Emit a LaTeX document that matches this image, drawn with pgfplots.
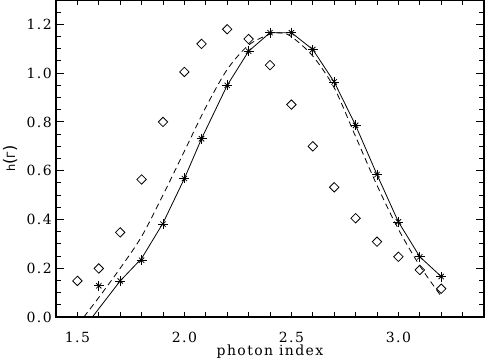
\documentclass[border=0pt]{standalone}
\usepackage{fontspec}
\setmainfont{DejaVu Serif}[LetterSpace=10]
\setsansfont{DejaVu Sans}
\usepackage{pgfplots}
\pgfplotsset{compat=1.18}

\begin{document}
\begin{tikzpicture}
% fix the page to the reference frame (1px = 0.75pt)
\useasboundingbox (-42pt,-33pt) rectangle (321.75pt,237.75pt);
\begin{axis}[
    at={(0,0)}, anchor=south west,
    scale only axis,
    width=321pt, height=237.75pt,
    xmin=1.4, xmax=3.4,
    ymin=0, ymax=1.3,
    xtick={1.5,2.0,2.5,3.0},
    minor xtick={1.4,1.5,...,3.4},
    major x tick style={draw=none},
    ytick={0,0.2,...,1.2},
    minor ytick={0,0.05,...,1.3},
    tick align=inside,
    major tick length=6pt,
    minor tick length=3.75pt,
    every tick/.style={black, line width=0.7pt},
    axis line style={line width=1.1pt},
    xticklabel style={anchor=center, yshift=-15.5pt},
    yticklabel style={anchor=east, inner sep=0pt, xshift=-3pt},
    tick label style={font=\fontsize{10.5}{12}\selectfont},
    /pgf/number format/assume math mode=true,
    xticklabel={\pgfmathprintnumber[fixed,fixed zerofill,precision=1]{\tick}},
    yticklabel={\pgfmathprintnumber[fixed,fixed zerofill,precision=1]{\tick}},
    xlabel={photon index},
    xlabel style={at={(axis description cs:0.5,0)}, anchor=center, yshift=-26pt,
                  font=\fontsize{10.5}{12}\selectfont},
    ylabel={h{\fontsize{12}{12}\selectfont(}Γ{\fontsize{12}{12}\selectfont)}},
    ylabel style={at={(axis description cs:-0.1075,0.5)}, anchor=center,
                  font=\sffamily\fontsize{8.5}{10}\selectfont},
]
% model curve, solid
\addplot[black, line width=0.6pt] coordinates {
 (1.57,0) (1.7,0.148) (1.8,0.24) (1.9,0.385) (2.0,0.568) (2.08,0.731)
 (2.2,0.95) (2.3,1.09) (2.4,1.166) (2.5,1.166) (2.6,1.097) (2.7,0.964)
 (2.8,0.786) (2.9,0.584) (3.0,0.39) (3.1,0.247) (3.2,0.166)
};
% model curve, dashed
\addplot[black, line width=0.6pt, dash pattern=on 4.5pt off 3pt, smooth] coordinates {
 (1.53,0) (1.6,0.08) (1.7,0.20) (1.8,0.33) (1.9,0.50) (2.0,0.68) (2.1,0.86)
 (2.2,1.015) (2.3,1.115) (2.4,1.16) (2.45,1.165) (2.5,1.15) (2.6,1.07)
 (2.7,0.94) (2.8,0.74) (2.9,0.54) (3.0,0.36) (3.1,0.21) (3.2,0.085)
};
% asterisks
\addplot[only marks, mark=+, mark size=3.75pt, mark options={line width=0.6pt}] coordinates {
 (1.6,0.128) (1.7,0.148) (1.8,0.233) (1.9,0.381) (2.0,0.568) (2.08,0.731)
 (2.2,0.95) (2.3,1.09) (2.4,1.166) (2.5,1.166) (2.6,1.097) (2.7,0.964)
 (2.8,0.786) (2.9,0.584) (3.0,0.39) (3.1,0.247) (3.2,0.166)
};
\addplot[only marks, mark=x, mark size=2.8pt, mark options={line width=0.6pt}] coordinates {
 (1.6,0.128) (1.7,0.148) (1.8,0.233) (1.9,0.381) (2.0,0.568) (2.08,0.731)
 (2.2,0.95) (2.3,1.09) (2.4,1.166) (2.5,1.166) (2.6,1.097) (2.7,0.964)
 (2.8,0.786) (2.9,0.584) (3.0,0.39) (3.1,0.247) (3.2,0.166)
};
% diamonds
\addplot[only marks, mark=square, mark size=2.5pt, mark options={rotate=45, line width=0.6pt}] coordinates {
 (1.5,0.148) (1.6,0.199) (1.7,0.347) (1.8,0.564) (1.9,0.80) (2.0,1.005)
 (2.08,1.12) (2.2,1.18) (2.3,1.14) (2.4,1.033) (2.5,0.871) (2.6,0.70)
 (2.7,0.532) (2.8,0.405) (2.9,0.309) (3.0,0.247) (3.1,0.193) (3.2,0.116)
};
\end{axis}
\end{tikzpicture}
\end{document}
